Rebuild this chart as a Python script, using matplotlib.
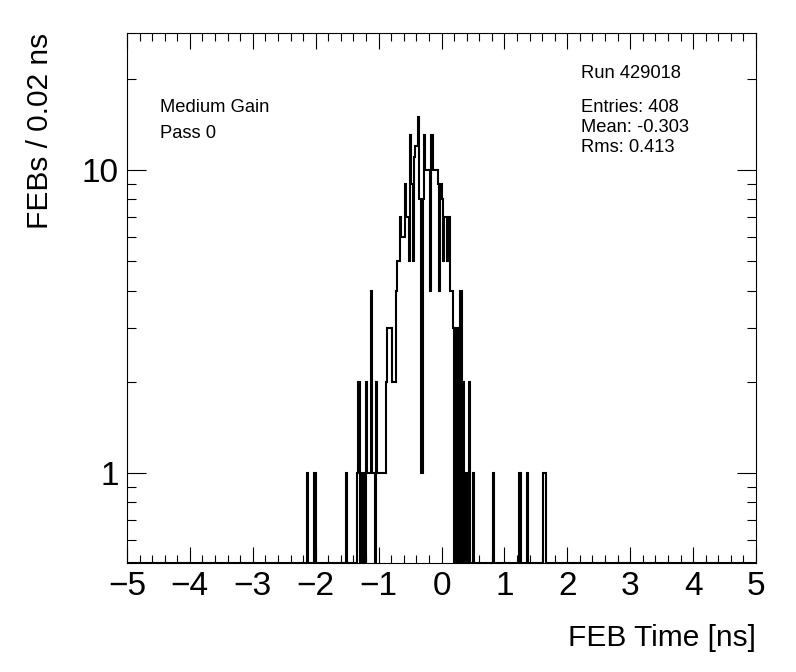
import numpy as np
import matplotlib.pyplot as plt
from matplotlib.ticker import FixedLocator, MultipleLocator, NullFormatter

plt.rcParams['font.family'] = ['Liberation Sans', 'DejaVu Sans']

# FEB time histogram, 0.02 ns bins from -5 to 5 ns
BIN_WIDTH = 0.02
X_MIN, X_MAX = -5.0, 5.0
Y_MIN, Y_MAX = 0.505, 28.3

# contiguous core of the distribution, first bin starts at -1.36 ns
core_start = -1.36
core_counts = [
    0, 1, 2, 0, 1, 0, 1, 0, 2, 1, 1, 1, 4, 1, 1, 0, 2, 1, 1, 1,   # -1.36 .. -0.98
    1, 1, 1, 1, 2, 3, 3, 3, 3, 2, 2, 2,                           # -0.96 .. -0.74
    4, 5, 5, 7, 6, 6, 6, 9, 7, 7, 5, 13, 9, 5, 11, 12, 12, 15,    # -0.72 .. -0.38
    8, 8, 1, 8, 13, 10, 10, 10, 10, 4, 13, 10, 10, 10, 10,        # -0.36 .. -0.08
    9, 4, 9, 8, 5, 7, 7, 5, 5, 7, 4, 4, 3,                        # -0.06 .. 0.18
    0, 3, 0, 3, 0, 4, 0, 2, 1, 0, 1, 0, 2, 0, 0, 1,               # 0.20 .. 0.50
]

# isolated single entries in the tails (bin low edges)
tail_times = [-2.14, -2.02, -1.52, 0.82, 1.24, 1.36, 1.62, 1.64]
tail_counts = [1, 1, 1, 1, 1, 1, 1, 1]

run_text = 'Run 429018'
stats_text = ['Entries: 408', 'Mean: -0.303', 'Rms: 0.413']
gain_text = ['Medium Gain', 'Pass 0']

# build the full binned histogram
n_bins = int(round((X_MAX - X_MIN) / BIN_WIDTH))
edges = np.linspace(X_MIN, X_MAX, n_bins + 1)
counts = np.zeros(n_bins)
i0 = int(round((core_start - X_MIN) / BIN_WIDTH))
counts[i0:i0 + len(core_counts)] = core_counts
for t, c in zip(tail_times, tail_counts):
    counts[int(round((t - X_MIN) / BIN_WIDTH))] += c

fig = plt.figure(figsize=(7.96, 6.72), dpi=100)
ax = fig.add_axes([127 / 796, 1 - 563 / 672, 629 / 796, 530 / 672])

# empty bins are drawn along the bottom edge, like ROOT does on log scale
ax.stairs(np.maximum(counts, Y_MIN), edges, color='black', linewidth=1.5,
          baseline=None)

ax.set_yscale('log')
ax.set_xlim(X_MIN, X_MAX)
ax.set_ylim(Y_MIN, Y_MAX)

ax.xaxis.set_major_locator(MultipleLocator(1))
ax.xaxis.set_minor_locator(MultipleLocator(0.2))
ax.yaxis.set_major_locator(FixedLocator([1, 10]))
ax.yaxis.set_minor_locator(FixedLocator([0.6, 0.7, 0.8, 0.9, 2, 3, 4, 5, 6,
                                         7, 8, 9, 20]))
ax.yaxis.set_minor_formatter(NullFormatter())
ax.set_yticklabels(['1', '10'])

ax.tick_params(which='both', direction='in', top=True, right=True,
               labelsize=24, width=0.8)
ax.tick_params(axis='x', which='major', length=11.5, pad=6)
ax.tick_params(axis='x', which='minor', length=5.8)
ax.tick_params(axis='y', which='major', length=13.5, pad=6)
ax.tick_params(axis='y', which='minor', length=6.8)
for sp in ax.spines.values():
    sp.set_linewidth(0.8)

fig.text(756 / 796, 1 - 638 / 672, 'FEB Time [ns]', ha='right', va='center',
         fontsize=21.5)
fig.text(40 / 796, 1 - 33 / 672, 'FEBs / 0.02 ns', rotation=90, ha='center',
         va='top', fontsize=21.5)

fig.text(160 / 796, 1 - 108 / 672, gain_text[0], ha='left', va='center',
         fontsize=13.2)
fig.text(160 / 796, 1 - 134 / 672, gain_text[1], ha='left', va='center',
         fontsize=13.2)
fig.text(581 / 796, 1 - 74 / 672, run_text, ha='left', va='center',
         fontsize=13.2)
for k, s in enumerate(stats_text):
    fig.text(581 / 796, 1 - (108 + 20 * k) / 672, s, ha='left', va='center',
             fontsize=13.2)

fig.savefig('out.png', dpi=100)
